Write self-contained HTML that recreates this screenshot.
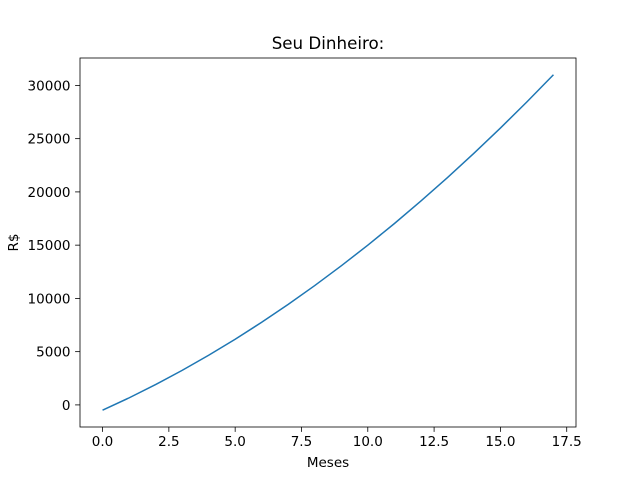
<!DOCTYPE html>
<html><head><meta charset="utf-8"><style>body{margin:0;background:#fff}svg text{font-family:"DejaVu Sans","Liberation Sans",sans-serif;}</style></head>
<body>
<svg id="chart" width="640" height="480" xmlns="http://www.w3.org/2000/svg">
<rect width="640" height="480" fill="#fff"/>
<g id="plot"></g>
</svg>
<script>
const months = [0,1,2,3,4,5,6,7,8,9,10,11,12,13,14,15,16,17];
const money = [-500,660,1907,3240,4660,6166,7759,9439,11205,13058,14997,17023,19136,21335,23621,25993,28452,30998];
const xTicks = [0,2.5,5,7.5,10,12.5,15,17.5];
const xTickLabels = ["0.0","2.5","5.0","7.5","10.0","12.5","15.0","17.5"];
const yTicks = [0,5000,10000,15000,20000,25000,30000];
const yTickLabels = ["0","5000","10000","15000","20000","25000","30000"];

const L=80,R=576,T=58,B=427;
const xmin=Math.min(...months),xmax=Math.max(...months),xm=(xmax-xmin)*0.05;
const ymin=Math.min(...money),ymax=Math.max(...money),ym=(ymax-ymin)*0.05;
const sx=v=>L+(v-(xmin-xm))/((xmax+xm)-(xmin-xm))*(R-L);
const sy=v=>B-(v-(ymin-ym))/((ymax+ym)-(ymin-ym))*(B-T);
const NS="http://www.w3.org/2000/svg";
const g=document.getElementById('plot');
function mk(t,a,txt){const e=document.createElementNS(NS,t);for(const k in a)e.setAttribute(k,a[k]);if(txt!==undefined)e.textContent=txt;g.appendChild(e);return e;}

let pts=months.map((m,i)=>sx(m).toFixed(2)+","+sy(money[i]).toFixed(2)).join(" ");
let line=mk('polyline',{points:pts,fill:'none',stroke:'#1f77b4','stroke-width':1.5});



let fr=mk('rect',{x:L,y:T,width:R-L,height:B-T,fill:'none',stroke:'#000','stroke-width':0.8});



xTicks.forEach((v,i)=>{const x=sx(v);
 mk('line',{x1:x,x2:x,y1:B,y2:B+4.9,stroke:'#000','stroke-width':0.8});
 let t=mk('text',{x:x,y:B+19,'font-size':13.5,'text-anchor':'middle'},xTickLabels[i]);
 
 
});
yTicks.forEach((v,i)=>{const y=sy(v);
 mk('line',{x1:L-4.9,x2:L,y1:y,y2:y,stroke:'#000','stroke-width':0.8});
 let t=mk('text',{x:L-9.5,y:y+5,'font-size':13.5,'text-anchor':'end'},yTickLabels[i]);
 
 
});
let tt=mk('text',{x:(L+R)/2,y:T-9,'font-size':16.7,'text-anchor':'middle'},'Seu Dinheiro:');


let xl=mk('text',{x:(L+R)/2,y:467,'font-size':13.5,'text-anchor':'middle'},'Meses');


let yl=mk('text',{x:18,y:(T+B)/2,'font-size':13.5,'text-anchor':'middle',transform:'rotate(-90 18 '+(T+B)/2+')'},'R$');


</script>
</body></html>
